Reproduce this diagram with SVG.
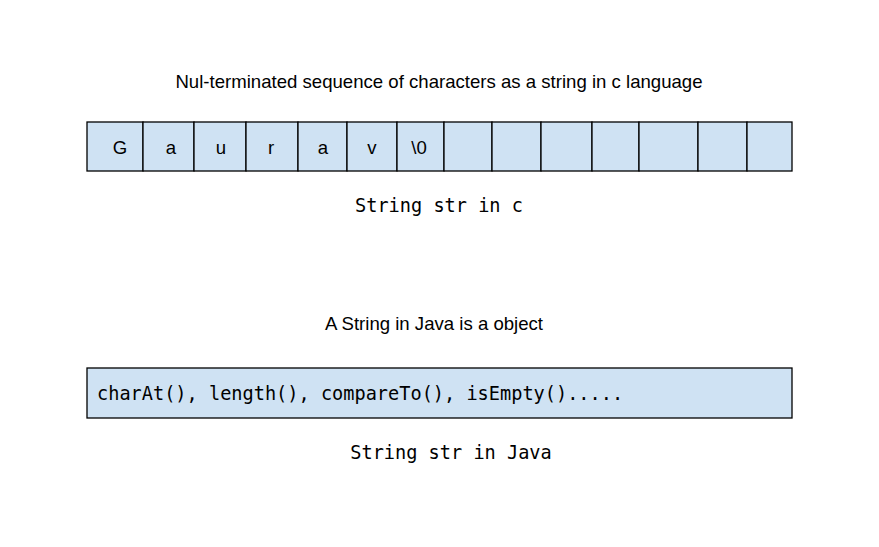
<svg xmlns="http://www.w3.org/2000/svg" width="879" height="547" viewBox="0 0 879 547">
<style>
.bg{fill:#ffffff}
.cell{fill:#cfe2f3;stroke:#000000;stroke-width:1.3}
.sans{font-family:"Liberation Sans",Arial,sans-serif;font-size:18.6px;fill:#000000;text-anchor:middle}
.mono{font-family:"DejaVu Sans Mono","Liberation Mono",monospace;font-size:18.6px;fill:#000000}
</style>
<rect class="bg" x="0" y="0" width="879" height="547"/>
<g id="title-c"><text class="sans" x="439" y="88">Nul-terminated sequence of characters as a string in c language</text></g>
<g id="c-array">
<rect class="cell" x="87" y="122" width="56" height="49"/>
<rect class="cell" x="143" y="122" width="51" height="49"/>
<rect class="cell" x="194" y="122" width="52" height="49"/>
<rect class="cell" x="246" y="122" width="52" height="49"/>
<rect class="cell" x="298" y="122" width="49" height="49"/>
<rect class="cell" x="347" y="122" width="50" height="49"/>
<rect class="cell" x="397" y="122" width="47" height="49"/>
<rect class="cell" x="444" y="122" width="48" height="49"/>
<rect class="cell" x="492" y="122" width="49" height="49"/>
<rect class="cell" x="541" y="122" width="51" height="49"/>
<rect class="cell" x="592" y="122" width="47" height="49"/>
<rect class="cell" x="639" y="122" width="59" height="49"/>
<rect class="cell" x="698" y="122" width="49" height="49"/>
<rect class="cell" x="747" y="122" width="45" height="49"/>
<text class="sans" x="120" y="154">G</text>
<text class="sans" x="171" y="154">a</text>
<text class="sans" x="221" y="154">u</text>
<text class="sans" x="271" y="154">r</text>
<text class="sans" x="323" y="154">a</text>
<text class="sans" x="372" y="154">v</text>
<text class="sans" x="419" y="154">\0</text>
</g>
<g id="label-c"><text class="mono" x="439" y="212" text-anchor="middle">String str in c</text></g>
<g id="title-java"><text class="sans" x="434" y="330">A String in Java is a object</text></g>
<g id="java-box">
<rect class="cell" x="87" y="368" width="705" height="50"/>
<text class="mono" x="97" y="400">charAt(), length(), compareTo(), isEmpty().....</text>
</g>
<g id="label-java"><text class="mono" x="451" y="459" text-anchor="middle">String str in Java</text></g>
<g id="connectors"></g>
</svg>
